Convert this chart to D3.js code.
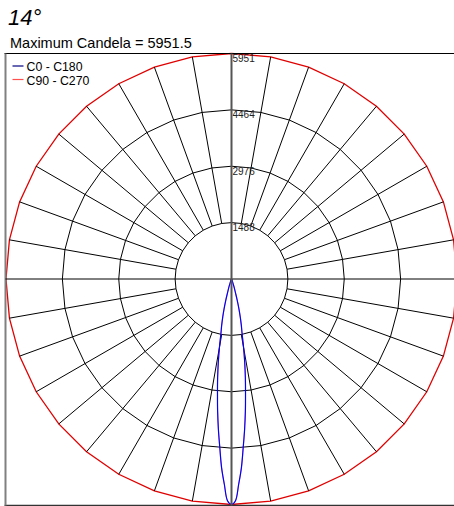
<!DOCTYPE html>
<html>
<head>
<meta charset="utf-8">
<script src="https://cdn.jsdelivr.net/npm/d3@7"></script>
<style>
  html, body { margin: 0; padding: 0; background: #fff; }
  svg { display: block; font-family: Arial, "Liberation Sans", sans-serif; }
</style>
</head>
<body>
<svg id="chart" width="454" height="506"></svg>
<script>
// ---- data ----
const beamTitle = "14°";
const maxCandela = 5951.5;
const ringValues = [1488, 2976, 4464, 5951.5];
const ringLabels = ["1488", "2976", "4464", "5951"];
const seriesNames = ["C0 - C180", "C90 - C270"];
const seriesColors = ["#0000ff", "#ff0000"];
const gammaAngles = [0, 1, 2, 3, 4, 5, 6, 7, 8, 9, 10, 11, 12, 13, 14, 15, 16, 17, 18, 20, 25, 30, 40, 50, 60, 70, 80, 90];
const c0c180 =  [5951.5, 5860, 5420, 4990, 4445, 3975, 3505, 3035, 2630, 2230, 1830, 1460, 1245, 1025, 810, 590, 400, 280, 200, 100, 30, 10, 0, 0, 0, 0, 0, 0];
const c90c270 = [5951.5, 5860, 5420, 4990, 4445, 3975, 3505, 3035, 2630, 2230, 1830, 1460, 1245, 1025, 810, 590, 400, 280, 200, 100, 30, 10, 0, 0, 0, 0, 0, 0];

// ---- layout ----
const svg = d3.select("#chart");
const cx = 231.5, cy = 279, R = 225.5;
const boxL = 5.5, boxT = 53.5, boxB = 505.5, boxR = 470;
const rScale = d3.scaleLinear().domain([0, maxCandela]).range([0, R]);
const deg = Math.PI / 180;

// titles
svg.append("text").attr("x", 8).attr("y", 25)
  .attr("font-size", 22).attr("font-style", "italic").attr("fill", "#000").text(beamTitle);
svg.append("text").attr("x", 10).attr("y", 47.5)
  .attr("font-size", 14.5).attr("fill", "#000").text("Maximum Candela = " + maxCandela);

const g = svg.append("g").attr("transform", `translate(${cx},${cy})`);

// grid rings (polygons every 10 degrees)
const gridAngles = d3.range(0, 361, 10);
const ringLine = d3.lineRadial().angle(d => d[0] * deg).radius(d => d[1]);
ringValues.forEach((v, i) => {
  const pts = gridAngles.map(a => [a, rScale(v)]);
  g.append("path").attr("d", ringLine(pts))
    .attr("fill", "none")
    .attr("stroke", i === ringValues.length - 1 ? "#e00000" : "#000")
    .attr("stroke-width", i === ringValues.length - 1 ? 1.3 : 1);
});

// spokes
d3.range(0, 360, 10).filter(a => a % 90 !== 0).forEach(a => {
  const r0 = rScale(ringValues[0]), r1 = rScale(maxCandela);
  g.append("line")
    .attr("x1", r0 * Math.sin(a * deg)).attr("y1", -r0 * Math.cos(a * deg))
    .attr("x2", r1 * Math.sin(a * deg)).attr("y2", -r1 * Math.cos(a * deg))
    .attr("stroke", "#000").attr("stroke-width", 1);
});

// frame
svg.append("line").attr("x1", boxL - 1).attr("x2", boxR).attr("y1", boxT).attr("y2", boxT)
  .attr("stroke", "#000").attr("stroke-width", 1);
svg.append("line").attr("x1", boxL - 1).attr("x2", boxR).attr("y1", boxB).attr("y2", boxB)
  .attr("stroke", "#333").attr("stroke-width", 1.5);
svg.append("line").attr("x1", boxL).attr("x2", boxL).attr("y1", boxT).attr("y2", boxB)
  .attr("stroke", "#808080").attr("stroke-width", 2);

// axes
svg.append("line").attr("x1", boxL).attr("x2", boxR).attr("y1", cy).attr("y2", cy)
  .attr("stroke", "#000").attr("stroke-width", 1);
svg.append("line").attr("x1", cx).attr("x2", cx).attr("y1", boxT).attr("y2", boxB)
  .attr("stroke", "#555").attr("stroke-width", 2);

// ring labels
ringValues.forEach((v, i) => {
  g.append("text").attr("x", 1).attr("y", -rScale(v) + 8.5)
    .attr("font-size", 10).attr("fill", "#222").text(ringLabels[i]);
});

// curves: gamma measured from nadir; one half-plane on each side
function curvePath(vals) {
  const right = gammaAngles.map((gm, i) => [Math.PI - gm * deg, rScale(vals[i])]);
  const left = gammaAngles.slice().reverse().map((gm, i) => [Math.PI + gm * deg, rScale(vals[vals.length - 1 - i])]);
  return d3.lineRadial().angle(d => d[0]).radius(d => d[1]).curve(d3.curveCatmullRomClosed)(right.concat(left.slice(1, -1)));
}
g.append("path").attr("d", curvePath(c90c270)).attr("fill", "none")
  .attr("stroke", seriesColors[1]).attr("stroke-width", 0.5);
g.append("path").attr("d", curvePath(c0c180)).attr("fill", "none")
  .attr("stroke", seriesColors[0]).attr("stroke-width", 1.2);

// legend
seriesNames.forEach((name, i) => {
  const y = 66 + i * 13.5;
  svg.append("line").attr("x1", 12.5).attr("x2", 23.5).attr("y1", y).attr("y2", y)
    .attr("stroke", seriesColors[i] === "#0000ff" ? "#000080" : "#ff5050").attr("stroke-width", 1.2);
  svg.append("text").attr("x", 26.5).attr("y", y + 5)
    .attr("font-size", 12.3).attr("fill", "#000").text(name);
});
</script>
</body>
</html>
